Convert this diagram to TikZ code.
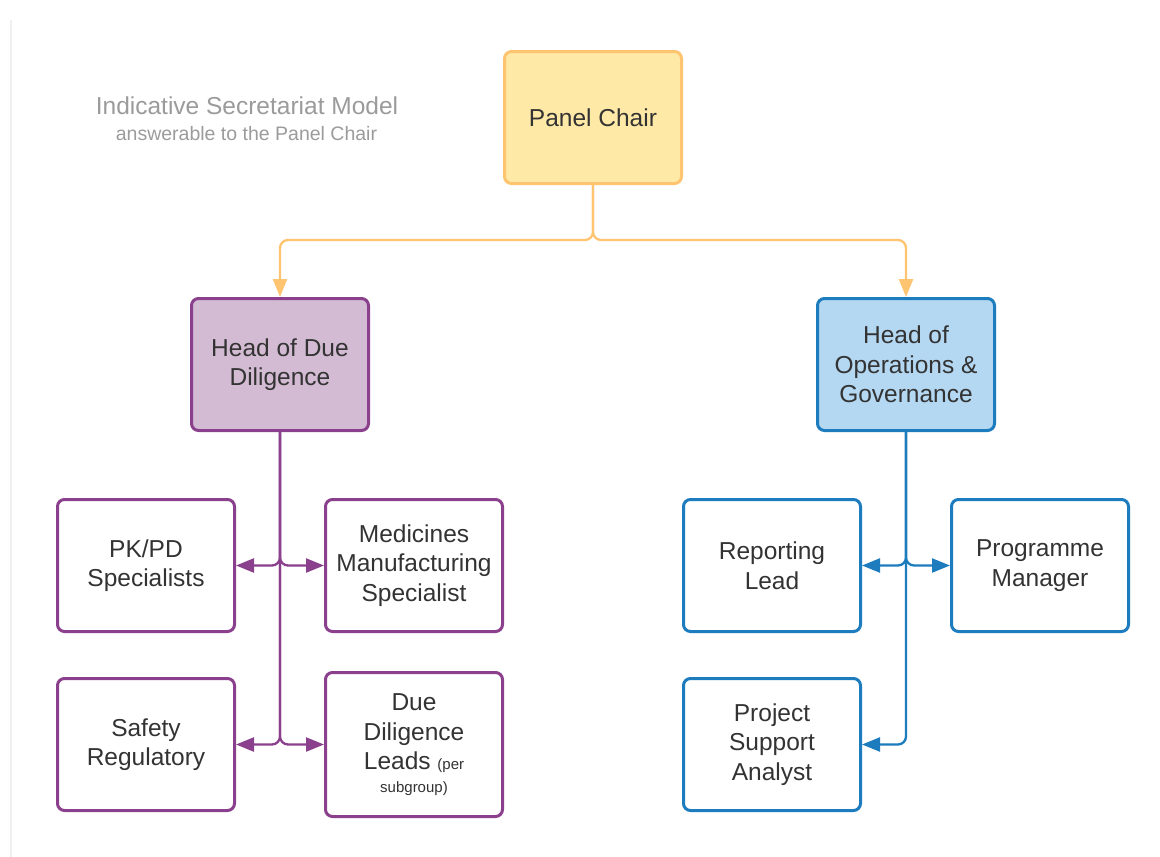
\documentclass[tikz,border=0pt]{standalone}
\usepackage{fontspec}
\setmainfont{Liberation Sans}
\usepackage{tikz}
\usetikzlibrary{positioning, calc, arrows.meta}

\definecolor{chairfill}{RGB}{255,233,166}
\definecolor{chairdraw}{RGB}{255,196,112}
\definecolor{ddfill}{RGB}{211,188,211}
\definecolor{dddraw}{RGB}{138,64,140}
\definecolor{opsfill}{RGB}{180,215,242}
\definecolor{opsdraw}{RGB}{28,124,190}
\definecolor{labeltext}{RGB}{51,51,51}
\definecolor{titlegray}{RGB}{155,155,155}

\begin{document}
\begin{tikzpicture}
    [x=1pt, y=-1pt,
    font=\fontsize{24.5}{29.5}\selectfont,
    rolebox/.style={rectangle, rounded corners=7pt, line width=3pt, minimum width=177pt,
        minimum height=132pt, align=center, text=labeltext, inner sep=0pt},
    chairbox/.style={rolebox, fill=chairfill, draw=chairdraw},
    ddhead/.style={rolebox, fill=ddfill, draw=dddraw},
    opshead/.style={rolebox, fill=opsfill, draw=opsdraw},
    ddbox/.style={rolebox, fill=white, draw=dddraw},
    opsbox/.style={rolebox, fill=white, draw=opsdraw},
    link/.style={line width=2.3pt, rounded corners=8pt, -{Triangle[length=18pt, width=14pt]}},
    chairline/.style={link, draw=chairdraw},
    ddline/.style={link, draw=dddraw},
    opsline/.style={link, draw=opsdraw},]

    \useasboundingbox[fill=white] (0,0) rectangle (1160,857);
    \draw[black!6, line width=1.5pt] (11,20) -- (11,857);

    %Title
    \node[text=titlegray](title) at (247,106){Indicative Secretariat Model};
    \node[text=titlegray, font=\fontsize{19.5}{23}\selectfont](subtitle) at (246.5,134){answerable to the Panel Chair};

    %Nodes
    \node[chairbox](chair) at (593,117.5){Panel Chair};
    \node[ddhead](hodd) at (280,364.5){Head of Due\\Diligence};
    \node[opshead](hoog) at (906,364.5){Head of\\Operations \&\\Governance};

    \node[ddbox](pkpd) at (146,565.5){PK/PD\\Specialists};
    \node[ddbox](mms)[right=88pt of pkpd]{Medicines\\Manufacturing\\Specialist};
    \node[ddbox](safety)[below=44pt of pkpd]{Safety\\Regulatory};
    \node[ddbox, minimum height=144pt](leads) at (414,744.5){Due\\Diligence\\Leads {\fontsize{15}{18}\selectfont(per}\\[-7pt]{\fontsize{15}{18}\selectfont subgroup)}};

    \node[opsbox](rlead) at (772,565.5){Reporting\\Lead};
    \node[opsbox](pm)[right=88pt of rlead]{Programme\\Manager};
    \node[opsbox](psa)[below=44pt of rlead]{Project\\Support\\Analyst};

    %Lines
    \coordinate (split) at (593,240);
    \draw[chairline](chair.south)--(split)-|(hodd.north);
    \draw[chairline](chair.south)--(split)-|(hoog.north);

    \draw[ddline](hodd.south)|-(pkpd.east);
    \draw[ddline](hodd.south)|-(mms.west);
    \draw[ddline](hodd.south)|-(safety.east);
    \draw[ddline](hodd.south)|-(leads.west);

    \draw[opsline](hoog.south)|-(rlead.east);
    \draw[opsline](hoog.south)|-(pm.west);
    \draw[opsline](hoog.south)|-(psa.east);
\end{tikzpicture}
\end{document}
